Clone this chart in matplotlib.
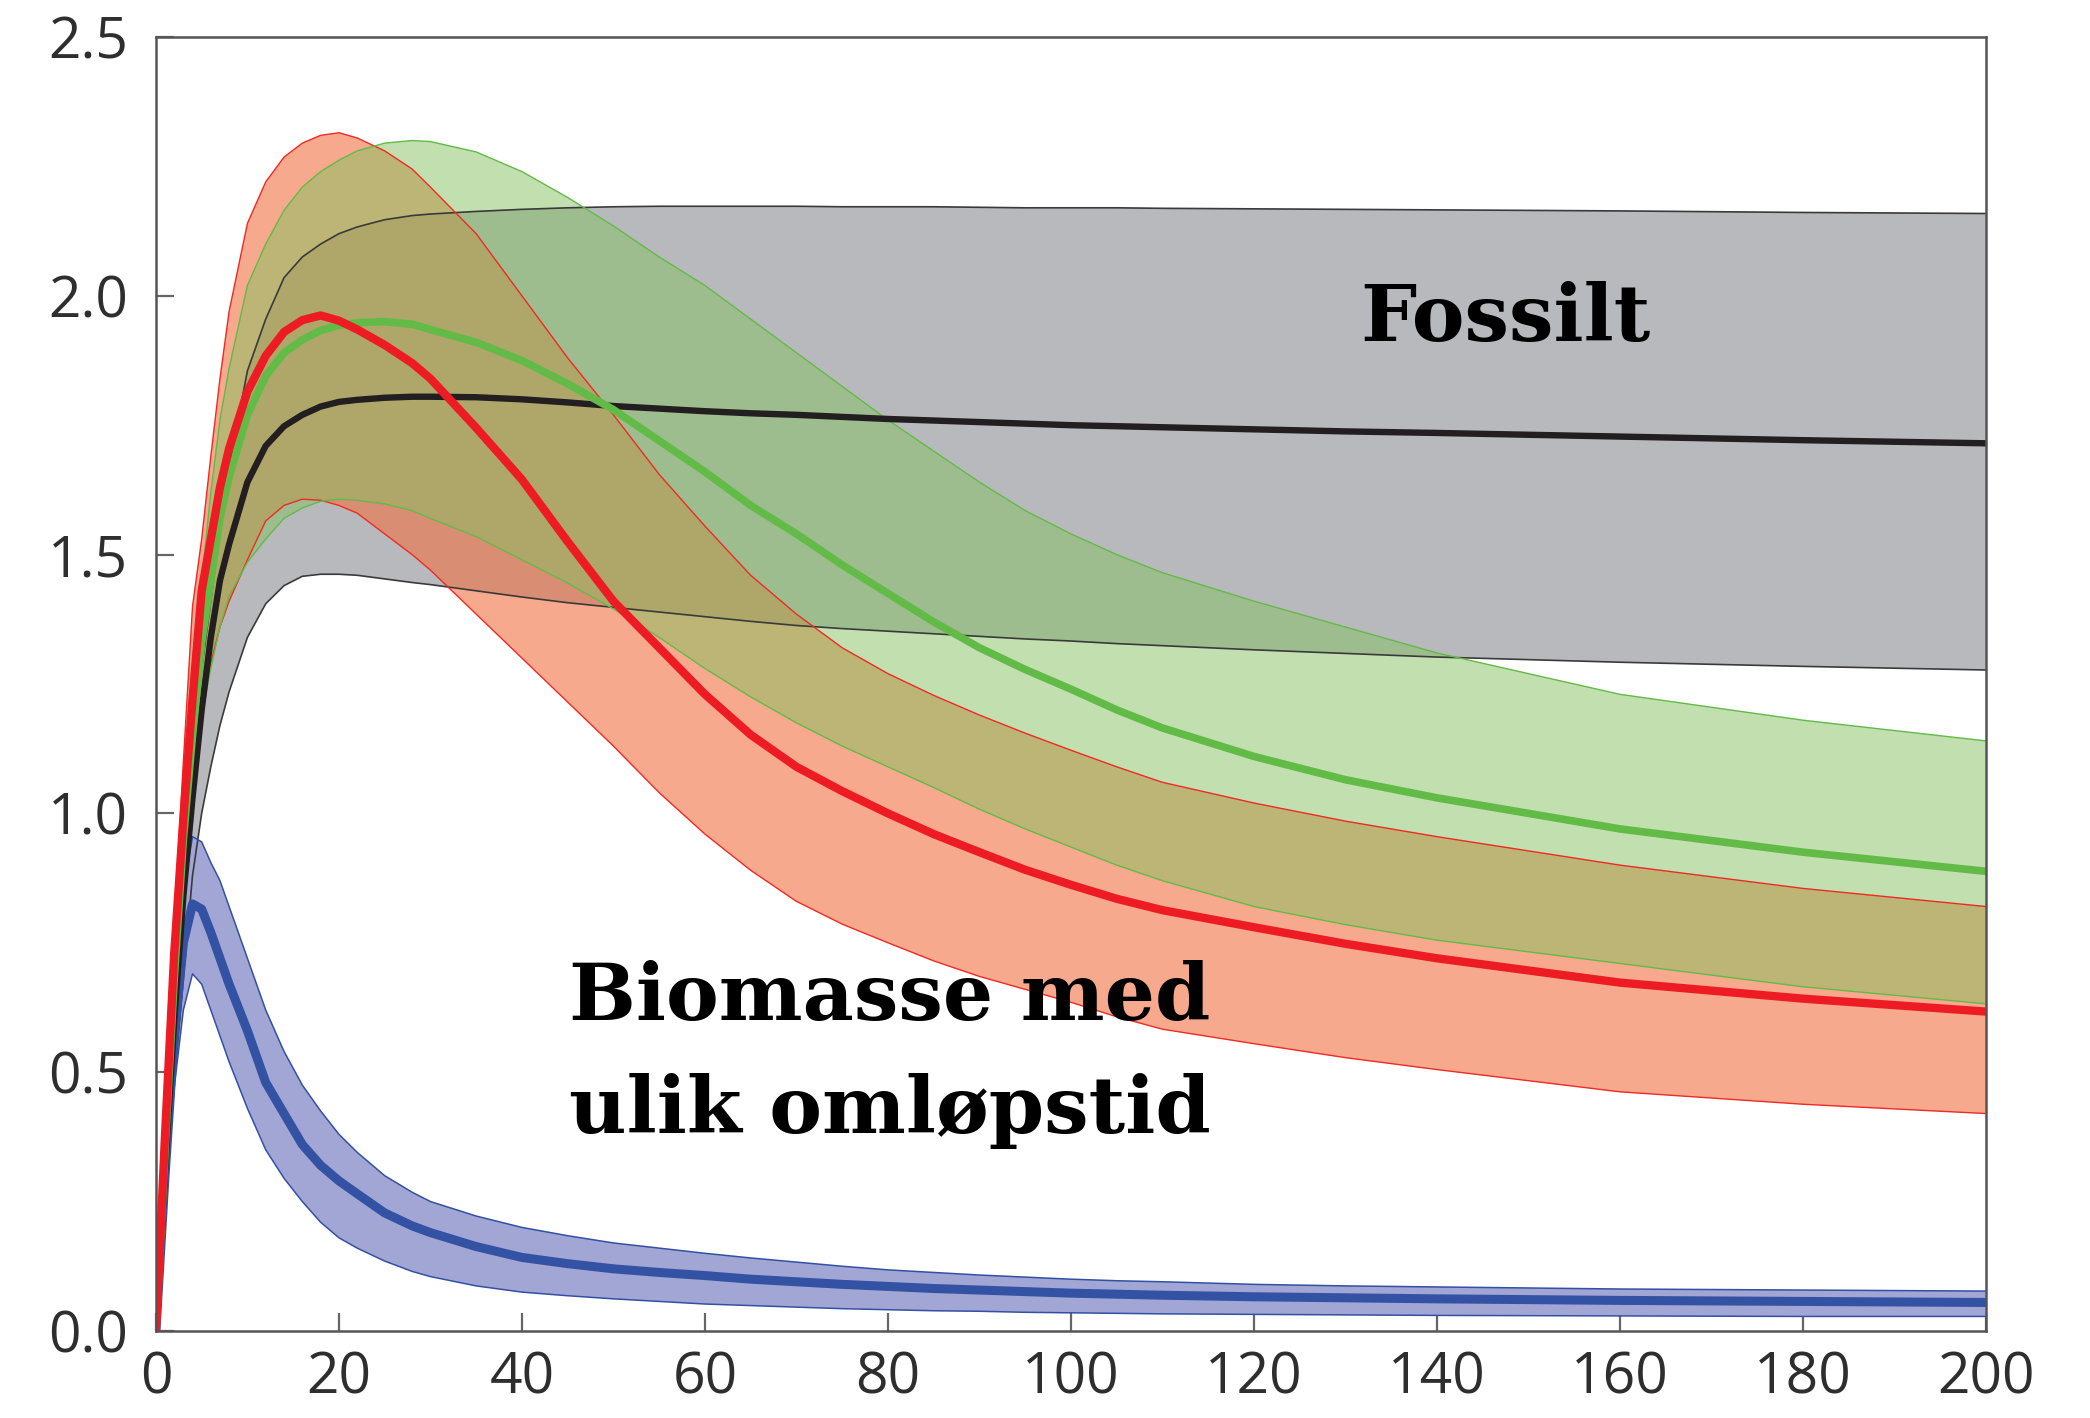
import matplotlib
matplotlib.use("Agg")
import matplotlib.pyplot as plt
import numpy as np

# Years after emission
years = [0, 1, 2, 3, 4, 5, 6, 7, 8, 10, 12, 14, 16, 18, 20, 22, 25, 28, 30, 35,
         40, 45, 50, 55, 60, 65, 70, 75, 80, 85, 90, 95, 100, 105, 110, 120, 130, 140,
         160, 180, 200]

# Fossil carbon: mean and uncertainty band
fossil_mid = [0, 0.31, 0.60, 0.84, 1.03, 1.20, 1.34, 1.45, 1.52, 1.64, 1.71, 1.748, 1.77, 1.786, 1.795,
              1.799, 1.803, 1.805, 1.805, 1.804, 1.80, 1.794, 1.787, 1.782, 1.777, 1.773, 1.77, 1.766,
              1.762, 1.759, 1.756, 1.753, 1.75, 1.748, 1.746, 1.742, 1.738, 1.735, 1.728, 1.721, 1.715]
fossil_hi = [0, 0.33, 0.64, 0.90, 1.12, 1.28, 1.41, 1.555, 1.67, 1.855, 1.955, 2.035, 2.075, 2.10, 2.12,
             2.133, 2.147, 2.155, 2.158, 2.163, 2.167, 2.17, 2.172, 2.173, 2.173, 2.173, 2.173, 2.172,
             2.172, 2.172, 2.171, 2.17, 2.17, 2.17, 2.169, 2.168, 2.167, 2.166, 2.164, 2.161, 2.159]
fossil_lo = [0, 0.25, 0.48, 0.68, 0.88, 1.00, 1.09, 1.17, 1.235, 1.34, 1.405, 1.44, 1.458, 1.462, 1.462,
             1.46, 1.453, 1.446, 1.442, 1.43, 1.418, 1.407, 1.398, 1.389, 1.38, 1.371, 1.363, 1.357,
             1.352, 1.347, 1.342, 1.337, 1.333, 1.328, 1.324, 1.316, 1.309, 1.302, 1.292, 1.284, 1.277]

# Biomass, long rotation (red)
red_mid = [0, 0.38, 0.73, 0.99, 1.22, 1.43, 1.53, 1.63, 1.705, 1.815, 1.884, 1.93, 1.953, 1.962, 1.952,
           1.935, 1.905, 1.87, 1.84, 1.745, 1.645, 1.525, 1.41, 1.32, 1.23, 1.152, 1.09, 1.043,
           1.0, 0.96, 0.925, 0.891, 0.862, 0.835, 0.813, 0.78, 0.748, 0.72, 0.673, 0.642, 0.617]
red_hi = [0, 0.40, 0.79, 1.10, 1.40, 1.53, 1.69, 1.84, 1.97, 2.14, 2.22, 2.268, 2.295, 2.31, 2.315,
          2.305, 2.28, 2.245, 2.21, 2.12, 2.0, 1.88, 1.77, 1.655, 1.555, 1.46, 1.385, 1.32,
          1.27, 1.228, 1.19, 1.155, 1.122, 1.09, 1.06, 1.02, 0.985, 0.955, 0.90, 0.855, 0.82]
red_lo = [0, 0.33, 0.64, 0.88, 1.04, 1.18, 1.29, 1.36, 1.41, 1.49, 1.565, 1.595, 1.607, 1.605, 1.595,
          1.58, 1.54, 1.50, 1.47, 1.385, 1.30, 1.215, 1.13, 1.04, 0.96, 0.89, 0.83, 0.786,
          0.75, 0.715, 0.685, 0.66, 0.635, 0.607, 0.583, 0.555, 0.528, 0.505, 0.462, 0.438, 0.42]

# Biomass, medium rotation (green)
green_mid = [0, 0.35, 0.68, 0.95, 1.15, 1.33, 1.45, 1.57, 1.65, 1.77, 1.845, 1.89, 1.915, 1.933, 1.943,
             1.948, 1.95, 1.945, 1.935, 1.91, 1.875, 1.83, 1.78, 1.72, 1.66, 1.595, 1.54, 1.48,
             1.425, 1.37, 1.32, 1.278, 1.24, 1.20, 1.165, 1.11, 1.065, 1.03, 0.97, 0.925, 0.888]
green_hi = [0, 0.36, 0.72, 1.03, 1.30, 1.45, 1.62, 1.76, 1.86, 2.02, 2.10, 2.165, 2.21, 2.24, 2.262,
            2.28, 2.295, 2.30, 2.298, 2.278, 2.24, 2.19, 2.135, 2.075, 2.02, 1.955, 1.89, 1.825,
            1.76, 1.70, 1.64, 1.585, 1.54, 1.50, 1.465, 1.41, 1.36, 1.31, 1.23, 1.18, 1.14]
green_lo = [0, 0.33, 0.64, 0.88, 1.05, 1.19, 1.28, 1.36, 1.42, 1.485, 1.53, 1.57, 1.59, 1.603, 1.607,
            1.605, 1.598, 1.585, 1.57, 1.535, 1.49, 1.445, 1.395, 1.34, 1.28, 1.225, 1.175, 1.13,
            1.09, 1.05, 1.008, 0.97, 0.935, 0.90, 0.87, 0.82, 0.785, 0.755, 0.71, 0.665, 0.632]

# Biomass, short rotation (blue)
blue_mid = [0, 0.30, 0.57, 0.75, 0.825, 0.815, 0.77, 0.72, 0.67, 0.58, 0.48, 0.42, 0.36, 0.32, 0.29,
            0.265, 0.228, 0.203, 0.19, 0.163, 0.142, 0.13, 0.12, 0.113, 0.107, 0.10, 0.095, 0.09,
            0.086, 0.082, 0.079, 0.076, 0.073, 0.071, 0.069, 0.066, 0.064, 0.062, 0.059, 0.057, 0.055]
blue_hi = [0, 0.32, 0.62, 0.85, 0.955, 0.945, 0.905, 0.87, 0.82, 0.72, 0.62, 0.54, 0.475, 0.425, 0.38,
           0.345, 0.30, 0.268, 0.25, 0.222, 0.20, 0.184, 0.17, 0.16, 0.15, 0.141, 0.133, 0.125,
           0.118, 0.113, 0.108, 0.104, 0.10, 0.097, 0.095, 0.09, 0.087, 0.085, 0.081, 0.079, 0.077]
blue_lo = [0, 0.25, 0.47, 0.62, 0.69, 0.67, 0.62, 0.57, 0.52, 0.43, 0.35, 0.295, 0.25, 0.21, 0.18,
           0.16, 0.135, 0.115, 0.105, 0.087, 0.075, 0.068, 0.062, 0.057, 0.052, 0.049, 0.046, 0.043,
           0.041, 0.039, 0.038, 0.036, 0.035, 0.034, 0.033, 0.032, 0.031, 0.030, 0.029, 0.028, 0.028]

x_ticks = [0, 20, 40, 60, 80, 100, 120, 140, 160, 180, 200]
y_ticks = [0.0, 0.5, 1.0, 1.5, 2.0, 2.5]
y_tick_labels = ["0.0", "0.5", "1.0", "1.5", "2.0", "2.5"]

label_fossil = "Fossilt"
label_bio_1 = "Biomasse med"
label_bio_2 = "ulik omløpstid"

fig = plt.figure(figsize=(20.9, 14.18), dpi=100)
ax = fig.add_axes([0.0746, 0.0614, 0.8756, 0.9125])

x = np.array(years)


def band(lo, hi, face, alpha, edge, elw):
    ax.fill_between(x, lo, hi, facecolor=face, alpha=alpha, linewidth=0, zorder=2)
    ax.plot(x, hi, color=edge, lw=elw, zorder=2.1, solid_capstyle="butt")
    ax.plot(x, lo, color=edge, lw=elw, zorder=2.1, solid_capstyle="butt")


band(fossil_lo, fossil_hi, "#b8b9bd", 1.0, "#3a3a3a", 1.2)
band(red_lo, red_hi, "#f07142", 0.6, "#ee2a24", 1.0)
band(green_lo, green_hi, "#85c161", 0.5, "#62bb46", 1.0)
band(blue_lo, blue_hi, "#a1a6d4", 1.0, "#3450a4", 1.1)

ax.plot(x, blue_mid, color="#3452a4", lw=6.5, zorder=3, solid_joinstyle="round")
ax.plot(x, fossil_mid, color="#231f20", lw=4.6, zorder=3, solid_joinstyle="round")
ax.plot(x, green_mid, color="#62bb46", lw=5.5, zorder=3, solid_joinstyle="round")
ax.plot(x, red_mid, color="#ed1c24", lw=6.0, zorder=3, solid_joinstyle="round")

ax.set_xlim(0, 200)
ax.set_ylim(0, 2.5)
ax.set_xticks(x_ticks)
ax.set_yticks(y_ticks)
ax.set_yticklabels(y_tick_labels)

for s in ax.spines.values():
    s.set_color("#555555")
    s.set_linewidth(1.8)
    s.set_zorder(5)

ax.tick_params(direction="in", length=13, width=1.6, color="#666666",
               labelsize=41, labelcolor="#2e2e2e", top=False, right=False)
ax.tick_params(axis="y", pad=20)
ax.tick_params(axis="x", pad=14)
for lab in ax.get_xticklabels() + ax.get_yticklabels():
    lab.set_family(["Open Sans", "DejaVu Sans"])

text_style = dict(family="DejaVu Serif", weight="bold", fontsize=57, color="black",
                  ha="left", va="baseline", zorder=6)
ax.text(131.6, 1.913, label_fossil, **text_style)
ax.text(45.2, 0.601, label_bio_1, **text_style)
ax.text(45.2, 0.3825, label_bio_2, **text_style)

fig.savefig("out.png", dpi=100)
